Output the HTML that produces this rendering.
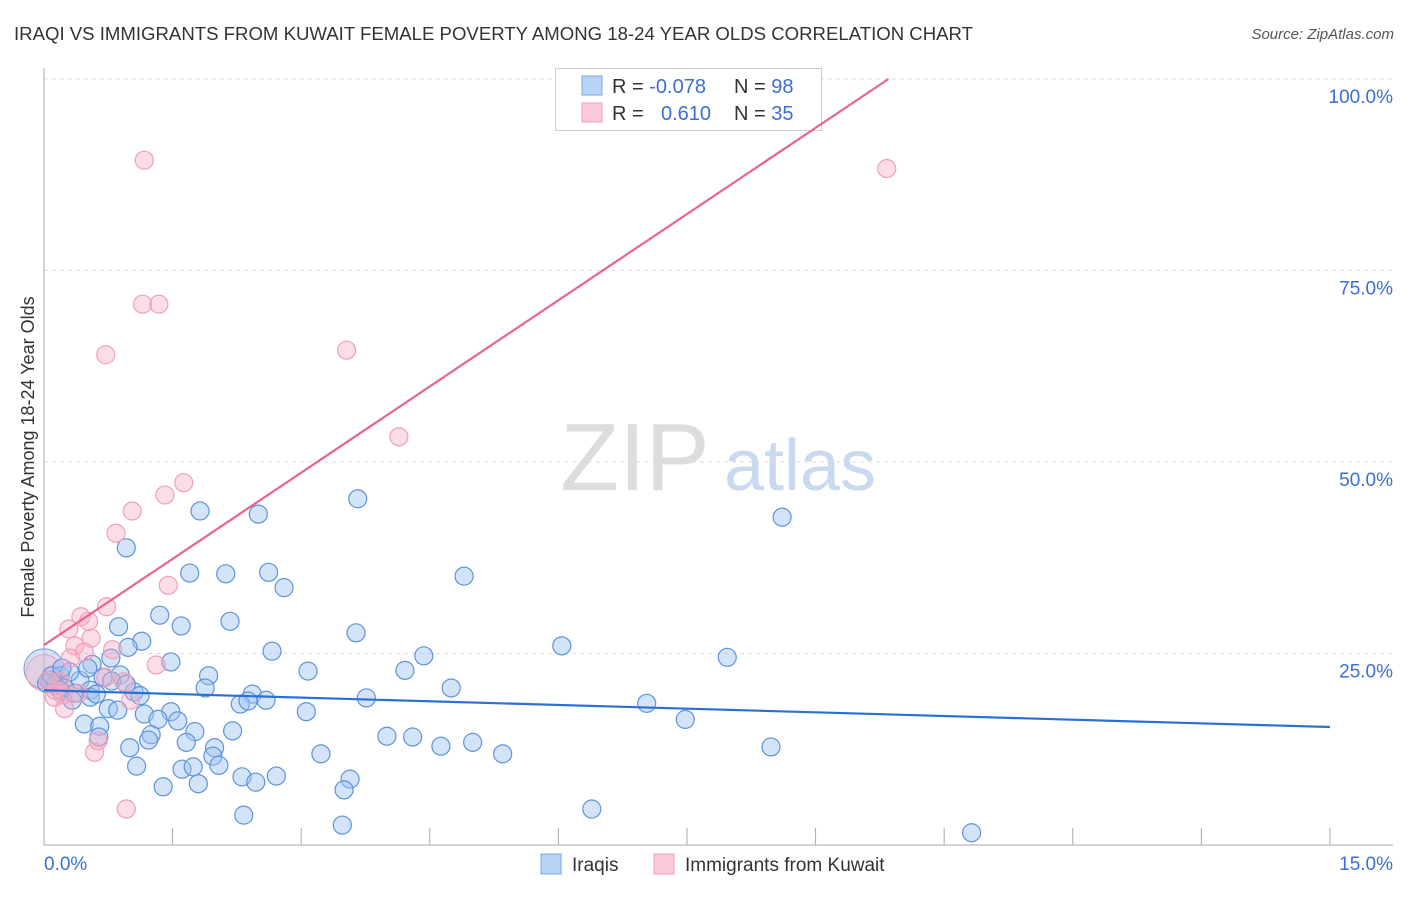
<!DOCTYPE html>
<html><head><meta charset="utf-8">
<style>
body{margin:0;background:#fff;font-family:"Liberation Sans",sans-serif;}
svg text{font-family:"Liberation Sans",sans-serif;}
</style></head>
<body>
<svg id="chart" width="1406" height="892" xmlns="http://www.w3.org/2000/svg">
<text x="14" y="40" font-size="18" fill="#333" textLength="959" lengthAdjust="spacingAndGlyphs">IRAQI VS IMMIGRANTS FROM KUWAIT FEMALE POVERTY AMONG 18-24 YEAR OLDS CORRELATION CHART</text>
<text x="1394" y="39" font-size="15" fill="#555" font-style="italic" text-anchor="end">Source: ZipAtlas.com</text>
<text x="34" y="457" font-size="18" fill="#333" text-anchor="middle" transform="rotate(-90 34 457)">Female Poverty Among 18-24 Year Olds</text>
<g>
<text x="635" y="490" font-size="96" fill="#ddd" font-family="Liberation Serif" text-anchor="middle">ZIP</text>
<text x="800" y="490" font-size="72" fill="#c9d9f0" text-anchor="middle">atlas</text>
</g>
<g id="grid"></g>
<g id="axes"></g>
<g id="marks"></g>
<g>
<rect x="555.5" y="68.5" width="266" height="62" fill="#fff" stroke="#ccc"/>
<rect x="582" y="76" width="20" height="19" fill="#b8d3f6" stroke="#7aa8e8"/>
<rect x="582" y="103" width="20" height="19" fill="#fbc9d8" stroke="#f2a0bb"/>
<text x="612" y="93" font-size="20" fill="#333">R = <tspan fill="#3a6fd0">-0.078</tspan></text>
<text x="734" y="93" font-size="20" fill="#333">N = <tspan fill="#3a6fd0">98</tspan></text>
<text x="612" y="120" font-size="20" fill="#333">R = <tspan fill="#3a6fd0" x="661">0.610</tspan></text>
<text x="734" y="120" font-size="20" fill="#333">N = <tspan fill="#3a6fd0">35</tspan></text>
</g>
<g id="lines"></g>
<g>
<rect x="541" y="854" width="20" height="20" fill="#b8d3f6" stroke="#7aa8e8"/>
<text x="572" y="871" font-size="19" fill="#333">Iraqis</text>
<rect x="654" y="854" width="20" height="20" fill="#fbc9d8" stroke="#f2a0bb"/>
<text x="685" y="871" font-size="19" fill="#333">Immigrants from Kuwait</text>
</g>
</svg>
<script>
const blueX=[0.96,1.82,2.50,3.66,8.61,4.90,1.70,2.12,2.62,2.80,1.35,2.17,1.60,0.87,1.14,0.98,3.64,6.04,7.97,2.66,4.43,0.78,1.48,0.56,1.92,3.08,4.21,0.89,0.69,0.42,0.19,0.30,0.07,0.13,0.24,0.54,1.05,1.88,2.43,4.75,3.76,7.03,2.29,2.59,2.38,0.75,0.86,3.06,1.17,1.48,1.56,1.33,0.47,0.65,1.76,2.20,0.64,1.25,1.22,1.66,4.00,4.30,5.00,1.00,1.99,4.63,7.48,8.48,1.97,3.23,5.35,1.08,2.04,1.61,1.74,2.31,2.71,3.57,2.47,1.39,1.80,3.50,6.39,2.33,3.48,10.82,0.54,0.36,0.19,0.03,0.09,0.21,0.61,0.33,0.79,0.96,1.12,0.51];
const blueY=[38.8,43.6,43.2,45.2,42.8,35.1,35.5,35.4,35.6,33.6,30.0,29.2,28.6,28.5,26.6,25.8,27.7,26.0,24.5,25.3,24.7,24.4,23.9,23.6,22.1,22.7,22.8,22.2,21.9,21.5,22.1,22.6,21.5,20.9,20.5,20.2,20.0,20.5,19.7,20.5,19.2,18.5,18.4,18.9,18.8,17.8,17.6,17.4,17.1,17.4,16.2,16.4,15.8,15.5,14.8,14.9,14.1,14.4,13.7,13.4,14.2,14.1,13.4,12.7,12.7,12.9,16.4,12.8,11.6,11.9,11.9,10.3,10.4,9.9,10.2,8.9,9.0,8.6,8.2,7.6,8.0,7.2,4.7,3.9,2.6,1.6,19.3,19.8,20.2,21.1,22.1,23.1,19.7,18.9,21.4,21.0,19.5,23.1];
const pinkX=[1.17,9.83,1.15,1.34,0.72,3.53,4.14,1.63,1.41,1.03,0.84,1.45,0.73,0.43,0.52,0.29,0.55,0.36,0.47,0.80,1.31,0.31,0.93,0.72,0.12,0.22,0.24,1.01,0.63,0.59,0.96,0.05,0.13,0.40,0.19];
const pinkY=[89.4,88.3,70.6,70.6,64.0,64.6,53.3,47.3,45.7,43.6,40.7,33.9,31.1,29.8,29.2,28.2,27.0,26.0,25.2,25.5,23.5,24.4,21.3,21.9,19.3,19.6,17.8,18.9,13.6,12.1,4.7,21.5,20.2,19.8,21.3];
const blueTrend=[20.2,15.4];   // y at x=0 and x=15
const pinkTrend=[26.1,100,9.85]; // y at x=0, y at end, x at end
const yTicks=[25,50,75,100];
const yTickLabels=["25.0%","50.0%","75.0%","100.0%"];
const xTicks=[0,1.5,3,4.5,6,7.5,9,10.5,12,13.5,15];

const NS="http://www.w3.org/2000/svg";
const X=v=>44+v*85.73, Y=v=>845-v*7.66;
function mk(tag,attrs,parent){const e=document.createElementNS(NS,tag);for(const k in attrs)e.setAttribute(k,attrs[k]);parent.appendChild(e);return e;}
const grid=document.getElementById('grid'),axes=document.getElementById('axes'),marks=document.getElementById('marks'),lines=document.getElementById('lines');
yTicks.forEach((t,i)=>{
 const l=mk('line',{x1:44,x2:1393,y1:Y(t),y2:Y(t),stroke:'#ddd','stroke-dasharray':'4,4'},grid);
 
 
 const tx=mk('text',{x:1393,y:Y(t)+24,'font-size':19,fill:'#3a6fd0','text-anchor':'end'},axes);
 tx.textContent=yTickLabels[i];
 
 
});
const ya=mk('line',{x1:44,x2:44,y1:68,y2:845,stroke:'#aaa'},axes);


const xa=mk('line',{x1:44,x2:1393,y1:845,y2:845,stroke:'#aaa'},axes);


xTicks.forEach(t=>{
 const l=mk('line',{x1:X(t),x2:X(t),y1:828,y2:845,stroke:'#aaa'},axes);
 
 
});
const x0=mk('text',{x:44,y:870,'font-size':19,fill:'#3a6fd0'},axes);x0.textContent=xTicks[0].toFixed(1)+'%';


const x1=mk('text',{x:1393,y:870,'font-size':19,fill:'#3a6fd0','text-anchor':'end'},axes);x1.textContent=xTicks[xTicks.length-1].toFixed(1)+'%';


const bb=mk('circle',{cx:X(0),cy:Y(23),r:20,fill:'rgba(160,196,240,0.45)',stroke:'#6d9ae0'},marks);


const pb=mk('circle',{cx:X(0),cy:Y(22.5),r:18,fill:'rgba(245,170,195,0.35)',stroke:'#f0a0b8'},marks);


blueX.forEach((v,i)=>{
 const c=mk('circle',{cx:X(v),cy:Y(blueY[i]),r:9,fill:'rgba(160,196,240,0.45)',stroke:'#5e92dc','stroke-width':1.2},marks);
 
 
});
pinkX.forEach((v,i)=>{
 const c=mk('circle',{cx:X(v),cy:Y(pinkY[i]),r:9,fill:'rgba(245,170,195,0.4)',stroke:'#f0a0b8','stroke-width':1.2},marks);
 
 
});
const bl=mk('line',{x1:X(0),y1:Y(blueTrend[0]),x2:X(15),y2:Y(blueTrend[1]),stroke:'#2a6fd6','stroke-width':2.2},lines);


const pl=mk('line',{x1:X(0),y1:Y(pinkTrend[0]),x2:X(pinkTrend[2]),y2:Y(pinkTrend[1]),stroke:'#e8648f','stroke-width':2.2},lines);


</script>
</body></html>
